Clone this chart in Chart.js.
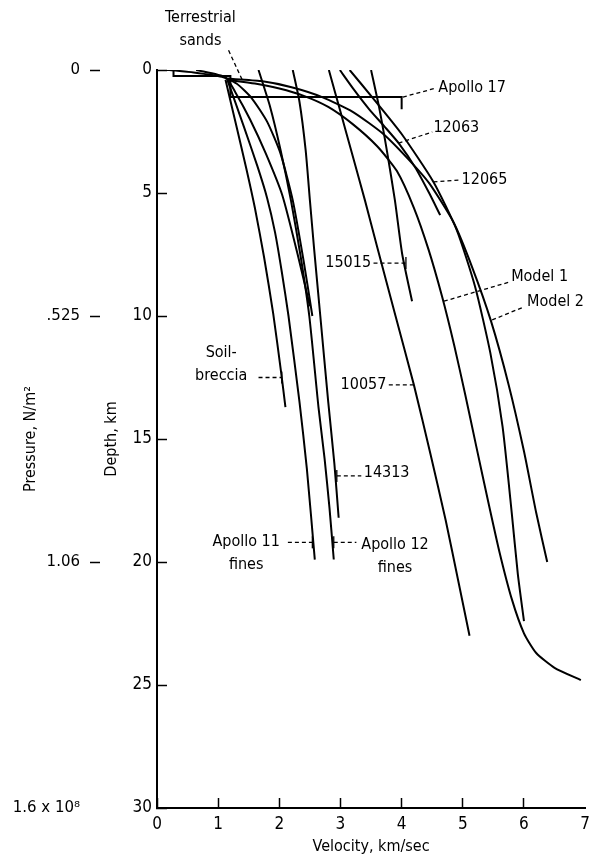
<!DOCTYPE html>
<html>
<head>
<meta charset="utf-8">
<script src="https://cdn.jsdelivr.net/npm/chart.js@4/dist/chart.umd.min.js"></script>
<style>
  html, body { margin: 0; padding: 0; background: #fff; }
</style>
</head>
<body>
<canvas id="chart" width="606" height="858"></canvas>
<script>
// [velocity km/sec, depth km] pairs
const apollo17 = [[0, 0], [0.27, 0], [0.27, 0.24], [1.2, 0.24], [1.2, 1.1], [4.0, 1.1], [4.0, 1.6]];
const sands1 = [[0.2, 0], [0.6, 0.1], [1.06, 0.28], [1.3, 0.55], [1.55, 1.15], [1.8, 2.1], [2.02, 3.4], [2.22, 5.3], [2.4, 7.8], [2.54, 10]];
const sands2 = [[0.64, 0], [1.12, 0.3], [1.28, 0.9], [1.52, 2.0], [1.78, 3.4], [2.05, 5.1], [2.3, 7.5], [2.5, 9.6]];
const soilBreccia = [[1.12, 0.4], [1.3, 2.3], [1.46, 4.0], [1.6, 5.6], [1.75, 7.6], [1.9, 9.9], [2.03, 12.3], [2.1, 13.7]];
const apollo11 = [[1.15, 0.4], [1.42, 2.3], [1.64, 3.9], [1.8, 5.2], [1.93, 6.6], [2.04, 8.2], [2.15, 10], [2.33, 13.5], [2.45, 16.2], [2.58, 19.9]];
const apollo12 = [[1.66, 0], [1.85, 1.5], [2.02, 3.25], [2.19, 5.3], [2.35, 7.6], [2.49, 10], [2.64, 13.7], [2.74, 15.8], [2.82, 17.8], [2.89, 19.9]];
const s14313 = [[2.22, 0], [2.33, 1.3], [2.43, 3.25], [2.5, 5.3], [2.57, 7.3], [2.67, 10], [2.8, 13.5], [2.9, 16], [2.97, 18.2]];
const s10057 = [[2.81, 0], [3.0, 1.7], [3.2, 3.5], [3.4, 5.3], [3.6, 7.2], [3.9, 10], [4.2, 12.8], [4.47, 15.6], [4.72, 18.3], [4.92, 20.7], [5.11, 23]];
const s15015 = [[3.5, 0], [3.63, 1.5], [3.76, 3.3], [3.89, 5.3], [4.01, 7.5], [4.17, 9.4]];
const s12063 = [[2.99, 0], [3.22, 0.8], [3.47, 1.6], [3.72, 2.3], [3.96, 3.0], [4.22, 3.95], [4.45, 5.0], [4.63, 5.9]];
const s12065 = [[3.15, 0], [3.55, 1.2], [4.0, 2.6], [4.52, 4.55], [4.9, 6.5], [5.2, 8.8], [5.45, 11.5], [5.65, 14.5], [5.8, 18], [5.9, 20.5], [6.0, 22.4]];
const model1 = [[1.15, 0.4], [1.6, 0.55], [2.0, 0.75], [2.4, 1.05], [2.8, 1.5], [3.2, 2.2], [3.6, 3.1], [3.92, 4.1], [4.2, 5.6], [4.44, 7.3], [4.66, 9.2], [4.86, 11.2], [5.04, 13.2], [5.22, 15.3], [5.42, 17.6], [5.6, 19.6], [5.8, 21.5], [6.0, 22.9], [6.2, 23.7], [6.5, 24.3], [6.93, 24.8]];
const model2 = [[1.15, 0.35], [1.7, 0.45], [2.2, 0.7], [2.7, 1.1], [3.2, 1.7], [3.7, 2.6], [4.1, 3.6], [4.45, 4.6], [4.85, 6.2], [5.15, 8.0], [5.46, 10.2], [5.75, 12.8], [6.0, 15.5], [6.2, 18], [6.38, 20]];

const velocityTicks = [0, 1, 2, 3, 4, 5, 6, 7];
const depthTicks = [0, 5, 10, 15, 20, 25, 30];
const pressureDepths = [0, 10, 20, 30];
const pressureLabels = ['0', '.525', '1.06', '1.6 x 10\u2078'];

const curves = [
  { pts: apollo17, tension: 0 },
  { pts: sands1, tension: 0.2 },
  { pts: sands2, tension: 0.2 },
  { pts: soilBreccia, tension: 0.2 },
  { pts: apollo11, tension: 0.2 },
  { pts: apollo12, tension: 0.2 },
  { pts: s14313, tension: 0.2 },
  { pts: s10057, tension: 0.2 },
  { pts: s15015, tension: 0.2 },
  { pts: s12063, tension: 0.2 },
  { pts: s12065, tension: 0.2 },
  { pts: model1, tension: 0.2 },
  { pts: model2, tension: 0.2 }
];

// callout labels: text anchor and dashed leader, in data units
const callouts = [
  { lines: ['Terrestrial', 'sands'], at: [0.71, -2.1], align: 'center', lead: [[1.17, -0.8], [1.41, 0.49]] },
  { lines: ['Apollo 17'], at: [4.6, 0.73], align: 'left', lead: [[4.02, 1.1], [4.57, 0.73]] },
  { lines: ['12063'], at: [4.52, 2.36], align: 'left', lead: [[3.95, 2.97], [4.5, 2.52]] },
  { lines: ['12065'], at: [4.98, 4.47], align: 'left', lead: [[4.52, 4.55], [4.95, 4.47]] },
  { lines: ['15015'], at: [3.5, 7.85], align: 'right', lead: [[3.54, 7.85], [4.07, 7.85]], tick: 1 },
  { lines: ['Model 1'], at: [5.79, 8.41], align: 'left', lead: [[4.69, 9.4], [5.76, 8.62]] },
  { lines: ['Model 2'], at: [6.05, 9.43], align: 'left', lead: [[5.48, 10.16], [6.0, 9.63]] },
  { lines: ['10057'], at: [3.75, 12.8], align: 'right', lead: [[3.79, 12.8], [4.2, 12.8]] },
  { lines: ['14313'], at: [3.38, 16.38], align: 'left', lead: [[2.94, 16.5], [3.34, 16.5]], tick: 0 },
  { lines: ['Apollo 12', 'fines'], at: [3.34, 19.3], align: 'left', lead: [[2.89, 19.2], [3.26, 19.2]], tick: 0 },
  { lines: ['Apollo 11', 'fines'], at: [2.01, 19.2], align: 'right', lead: [[2.14, 19.2], [2.54, 19.2]], tick: 1 },
  { lines: ['Soil-', 'breccia'], at: [1.05, 11.5], align: 'center', lead: [[1.66, 12.5], [2.04, 12.5]], tick: 1 }
];

const FONT = '"DejaVu Sans Condensed", "Liberation Sans Narrow", sans-serif';

const calloutPlugin = {
  id: 'callouts',
  afterDatasetsDraw(chart) {
    const { ctx } = chart;
    const xs = chart.scales.x, ys = chart.scales.y;
    ctx.save();
    ctx.strokeStyle = '#000';
    ctx.fillStyle = '#000';
    ctx.lineWidth = 1.3;
    callouts.forEach(c => {
      const p0 = [xs.getPixelForValue(c.lead[0][0]), ys.getPixelForValue(c.lead[0][1])];
      const p1 = [xs.getPixelForValue(c.lead[1][0]), ys.getPixelForValue(c.lead[1][1])];
      ctx.setLineDash([4, 3]);
      ctx.beginPath();
      ctx.moveTo(p0[0], p0[1]);
      ctx.lineTo(p1[0], p1[1]);
      ctx.stroke();
      if (c.tick !== undefined) {
        const tp = c.tick === 0 ? p0 : p1;
        ctx.setLineDash([]);
        ctx.beginPath();
        ctx.moveTo(tp[0], tp[1] - 6);
        ctx.lineTo(tp[0], tp[1] + 6);
        ctx.stroke();
      }
      ctx.font = '16px ' + FONT;
      ctx.textBaseline = 'middle';
      const tx = xs.getPixelForValue(c.at[0]);
      const ty = ys.getPixelForValue(c.at[1]);
      c.lines.forEach((t, i) => {
        let ax = c.align;
        let x = tx;
        if (i > 0 && ax !== 'center') {
          // second line sits centred under the first
          const w0 = ctx.measureText(c.lines[0]).width;
          x = ax === 'left' ? tx + w0 / 2 : tx - w0 / 2;
          ax = 'center';
        }
        ctx.textAlign = ax;
        ctx.fillText(t, x, ty + i * 23);
      });
    });
    ctx.restore();
  }
};

new Chart(document.getElementById('chart'), {
  type: 'scatter',
  data: {
    datasets: curves.map(c => ({
      data: c.pts.map(p => ({ x: p[0], y: p[1] })),
      showLine: true,
      borderColor: '#000',
      borderWidth: 2,
      pointRadius: 0,
      tension: c.tension,
      fill: false
    }))
  },
  options: {
    responsive: false,
    animation: false,
    devicePixelRatio: 1,
    layout: { padding: { top: 70, right: 14, bottom: 0, left: 0 } },
    plugins: { legend: { display: false }, tooltip: { enabled: false } },
    scales: {
      x: {
        type: 'linear',
        position: 'bottom',
        min: 0,
        max: 7,
        afterBuildTicks: s => { s.ticks = velocityTicks.map(v => ({ value: v })); },
        afterFit: s => { s.height = 50; },
        ticks: { color: '#000', padding: 16, font: { family: FONT, size: 17 } },
        grid: {
          drawOnChartArea: false,
          drawTicks: true,
          tickLength: -10,
          tickWidth: 1.5,
          tickColor: c => (c.index === velocityTicks.length - 1 ? 'rgba(0,0,0,0)' : '#000')
        },
        border: { display: true, color: '#000', width: 2 },
        title: { display: true, text: 'Velocity, km/sec', color: '#000', font: { family: FONT, size: 16 }, padding: { bottom: 2, top: 0 } }
      },
      y: {
        type: 'linear',
        position: 'left',
        weight: 0,
        reverse: true,
        min: 0,
        max: 30,
        afterBuildTicks: s => { s.ticks = depthTicks.map(v => ({ value: v })); },
        afterFit: s => { s.width = 57; },
        ticks: { color: '#000', padding: 15, font: { family: FONT, size: 17 } },
        grid: { drawOnChartArea: false, drawTicks: true, tickLength: -10, tickColor: '#000', tickWidth: 1.5 },
        border: { display: true, color: '#000', width: 2 },
        title: { display: true, text: 'Depth, km', color: '#000', font: { family: FONT, size: 16 }, padding: { top: 2, bottom: 0 } }
      },
      p: {
        type: 'linear',
        position: 'left',
        weight: 1,
        reverse: true,
        min: 0,
        max: 30,
        afterBuildTicks: s => { s.ticks = pressureDepths.map(v => ({ value: v })); },
        afterFit: s => { s.width = 100; },
        ticks: {
          color: '#000',
          padding: 10,
          font: { family: '"DejaVu Sans", sans-serif', size: 15 },
          callback: v => pressureLabels[pressureDepths.indexOf(v)]
        },
        grid: {
          drawOnChartArea: false,
          drawTicks: true,
          tickLength: 10,
          tickWidth: 1.5,
          tickColor: c => (c.index === pressureDepths.length - 1 ? 'rgba(0,0,0,0)' : '#000')
        },
        border: { display: false },
        title: { display: true, text: 'Pressure, N/m\u00b2', color: '#000', font: { family: FONT, size: 16 }, padding: { top: 21, bottom: 0 } }
      }
    }
  },
  plugins: [calloutPlugin]
});
</script>
</body>
</html>
